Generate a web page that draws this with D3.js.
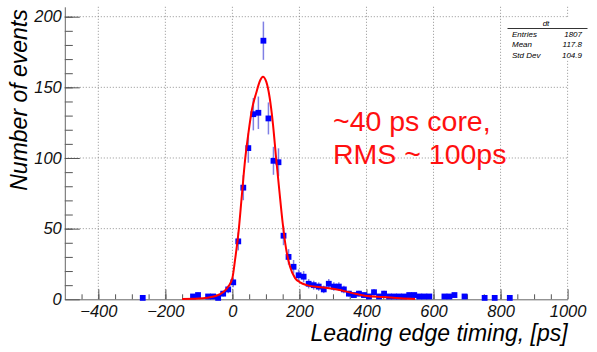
<!DOCTYPE html>
<html>
<head>
<meta charset="utf-8">
<script src="https://cdn.jsdelivr.net/npm/d3@7"></script>
<style>
  body { margin: 0; background: #fff; }
  svg text { font-family: "Liberation Sans", Arial, sans-serif; font-style: italic; }
</style>
</head>
<body>
<svg id="chart"></svg>
<script>
const width = 597;
const height = 352;

// histogram "dt": bin centres (15 ps bins) and counts, empty bins left out
const binCenters = [-267.5, -117.5, -102.5, -72.5, -57.5, -42.5, -27.5, -12.5, 2.5,
  17.5, 32.5, 47.5, 62.5, 77.5, 92.5, 107.5, 122.5, 137.5, 152.5, 167.5, 182.5,
  197.5, 212.5, 227.5, 242.5, 257.5, 272.5, 287.5, 302.5, 317.5, 332.5, 347.5,
  362.5, 377.5, 392.5, 407.5, 422.5, 437.5, 452.5, 467.5, 482.5, 497.5, 512.5,
  527.5, 542.5, 557.5, 572.5, 587.5, 632.5, 647.5, 662.5, 692.5, 752.5, 782.5, 827.5];
const binCounts = [1, 2, 3, 2, 2, 1, 4, 7, 12,
  41, 79, 107, 131, 132, 183, 128, 98, 97, 45, 30, 23,
  17, 16, 11, 10, 9, 7, 11, 9, 9, 7, 4,
  3, 4, 3, 2, 5, 2, 4, 2, 2, 2, 2,
  3, 3, 2, 2, 2, 2, 2, 3, 2, 1, 1, 1];

// fit curve
const fitX = [-150, -100, -75, -50, -25, -12, 0, 8, 18, 28, 38, 48, 58, 71, 83, 91, 101, 111,
  121, 130, 140, 150, 160, 172, 187, 202, 222, 262, 312, 361, 401, 451, 501, 545];
const fitY = [0.2, 0.5, 1.1, 2.3, 5.5, 9, 15, 28, 47, 73, 99, 118, 134, 146, 155, 157.5, 154, 143,
  124, 101, 77, 54, 36, 23, 15, 12, 10, 8.5, 7, 4.2, 2.3, 1.6, 0.7, 0.3];

const xMajor = [-400, -200, 0, 200, 400, 600, 800, 1000];
const yMajor = [0, 50, 100, 150, 200];

const statsTitle = "dt";
const statsNames = ["Entries", "Mean", "Std Dev"];
const statsValues = ["1807", "117.8", "104.9"];

const noteLines = ["~40 ps core,", "RMS ~ 100ps"];

const svg = d3.select("#chart")
  .attr("width", width)
  .attr("height", height);

const x = d3.scaleLinear().domain([-500, 1000]).range([64.8, 567.6]);
const y = d3.scaleLinear().domain([0, 207]).range([299.3, 6.8]);

// grid
svg.append("g")
  .selectAll("line")
  .data(xMajor)
  .join("line")
  .attr("x1", d => x(d)).attr("x2", d => x(d))
  .attr("y1", y(207)).attr("y2", y(0))
  .attr("stroke", "#777").attr("stroke-width", 0.8)
  .attr("stroke-dasharray", "1,2");

svg.append("g")
  .selectAll("line")
  .data(yMajor.filter(d => d > 0))
  .join("line")
  .attr("x1", x(-500)).attr("x2", x(1000))
  .attr("y1", d => y(d)).attr("y2", d => y(d))
  .attr("stroke", "#777").attr("stroke-width", 0.8)
  .attr("stroke-dasharray", "1,2");

// x axis: minor ticks every 50, major every 200
svg.append("g")
  .attr("transform", `translate(0,${y(0)})`)
  .call(d3.axisBottom(x).tickValues(d3.range(-450, 1000, 50)).tickSize(-5).tickFormat(""))
  .call(g => g.select(".domain").remove())
  .call(g => g.selectAll("line").attr("stroke", "#555"));

svg.append("g")
  .attr("transform", `translate(0,${y(0)})`)
  .call(d3.axisBottom(x).tickValues(xMajor).tickFormat(d3.format("d"))
    .tickSizeInner(-10).tickSizeOuter(0).tickPadding(6))
  .call(g => g.select(".domain").attr("stroke", "#666"))
  .call(g => g.selectAll("line").attr("stroke", "#555"))
  .call(g => g.selectAll("text").attr("font-size", "16.5px").attr("fill", "#111")
    .style("font-family", "'Liberation Sans', Arial, sans-serif"));

// y axis: minor every 10, major every 50
svg.append("g")
  .attr("transform", `translate(${x(-500)},0)`)
  .call(d3.axisLeft(y).tickValues(d3.range(10, 207, 10)).tickSize(-8).tickFormat(""))
  .call(g => g.select(".domain").remove())
  .call(g => g.selectAll("line").attr("stroke", "#555"));

svg.append("g")
  .attr("transform", `translate(${x(-500)},0)`)
  .call(d3.axisLeft(y).tickValues(yMajor).tickSizeInner(-15).tickSizeOuter(0).tickPadding(3))
  .call(g => g.select(".domain").attr("stroke", "#666"))
  .call(g => g.selectAll("line").attr("stroke", "#555"))
  .call(g => g.selectAll("text").attr("font-size", "16.5px").attr("fill", "#111")
    .style("font-family", "'Liberation Sans', Arial, sans-serif"));

// histogram points with sqrt(N) error bars
const bins = binCenters.map((c, i) => ({ c: c, n: binCounts[i] }));

svg.append("g")
  .selectAll("line")
  .data(bins)
  .join("line")
  .attr("x1", d => x(d.c)).attr("x2", d => x(d.c))
  .attr("y1", d => y(Math.max(0, d.n - Math.sqrt(d.n))))
  .attr("y2", d => y(d.n + Math.sqrt(d.n)))
  .attr("stroke", "#4a4ad8").attr("stroke-opacity", 0.7).attr("stroke-width", 1.5);

const ms = 5.8;
svg.append("g")
  .selectAll("rect")
  .data(bins)
  .join("rect")
  .attr("x", d => x(d.c) - ms / 2)
  .attr("y", d => y(d.n) - ms / 2)
  .attr("width", ms).attr("height", ms)
  .attr("fill", "#0000ff");

// fit curve
const fit = fitX.map((v, i) => [v, fitY[i]]);
svg.append("path")
  .datum(fit)
  .attr("fill", "none")
  .attr("stroke", "#ff0000")
  .attr("stroke-width", 2)
  .attr("d", d3.line().x(d => x(d[0])).y(d => y(d[1])).curve(d3.curveMonotoneX));

// stats box
const box = svg.append("g");
box.append("rect")
  .attr("x", 507).attr("y", 17.5).attr("width", 83).attr("height", 43)
  .attr("fill", "#fff");
box.append("text")
  .attr("x", 546).attr("y", 26).attr("text-anchor", "middle")
  .attr("font-size", "8px").text(statsTitle);
box.append("line")
  .attr("x1", 507.5).attr("x2", 587.5).attr("y1", 28.5).attr("y2", 28.5)
  .attr("stroke", "#000").attr("stroke-width", 0.8);
box.selectAll("text.name")
  .data(statsNames)
  .join("text")
  .attr("class", "name")
  .attr("x", 512).attr("y", (d, i) => 37 + i * 10.3)
  .attr("font-size", "8px").text(d => d);
box.selectAll("text.val")
  .data(statsValues)
  .join("text")
  .attr("class", "val")
  .attr("x", 582).attr("y", (d, i) => 37 + i * 10.3)
  .attr("text-anchor", "end")
  .attr("font-size", "8px").text(d => d);

// annotation
svg.selectAll("text.note")
  .data(noteLines)
  .join("text")
  .attr("class", "note")
  .attr("x", 333).attr("y", (d, i) => 131 + i * 32.5)
  .attr("font-size", "28.5px")
  .style("font-style", "normal")
  .attr("fill", "#ff1010")
  .text(d => d);

// axis titles
svg.append("text")
  .attr("x", x(1000)).attr("y", 341)
  .attr("text-anchor", "end")
  .attr("font-size", "23px")
  .text("Leading edge timing, [ps]");

svg.append("text")
  .attr("transform", "rotate(-90)")
  .attr("x", -100).attr("y", 27)
  .attr("text-anchor", "middle")
  .attr("font-size", "23px")
  .text("Number of events");
</script>
</body>
</html>
